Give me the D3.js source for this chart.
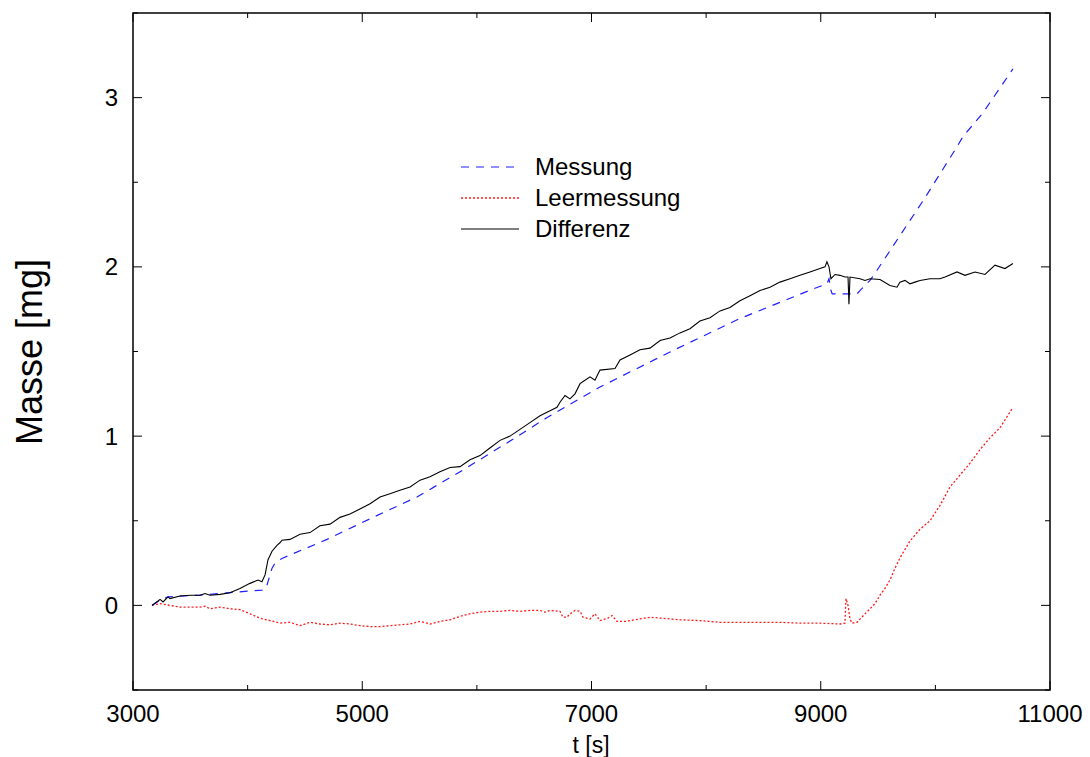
<!DOCTYPE html>
<html>
<head>
<meta charset="utf-8">
<script src="https://cdn.jsdelivr.net/npm/d3@7"></script>
<style>
  html, body { margin: 0; padding: 0; background: #fff; }
  svg { display: block; font-family: "Liberation Sans", Arial, Helvetica, sans-serif; }
</style>
</head>
<body>
<svg id="chart" width="1090" height="757"></svg>
<script>
// ---- data ----
const xTicksMajor = [3000, 5000, 7000, 9000, 11000];
const xTicksMinor = [4000, 6000, 8000, 10000];
const yTicksMajor = [0, 1, 2, 3];
const yTicksMinor = [-0.5, 0.5, 1.5, 2.5, 3.5];
const xDomain = [3000, 11000];
const yDomain = [-0.5, 3.5];

const seriesNames = ["Messung", "Leermessung", "Differenz"];

const messungT = [3166, 3236, 3305, 3410, 3585, 3846, 4021, 4125, 4160, 4178, 4213, 4239, 4282, 4309,
  4693, 5094, 5477, 5879, 6263, 6613, 7074, 7711, 8295, 8935, 9054, 9072, 9089, 9100, 9200, 9316,
  9342, 9430, 9491, 9892, 10189, 10241, 10415, 10677];
const messungV = [0, 0.03, 0.05, 0.055, 0.06, 0.075, 0.085, 0.09, 0.10, 0.14, 0.22, 0.25, 0.27, 0.28,
  0.39, 0.52, 0.64, 0.80, 0.96, 1.11, 1.29, 1.506, 1.695, 1.87, 1.90, 1.93, 1.86, 1.84, 1.84, 1.84,
  1.86, 1.92, 1.98, 2.39, 2.71, 2.77, 2.91, 3.17];

const leerT = [3166, 3236, 3323, 3410, 3585, 3628, 3672, 3759, 3846, 3933, 4021, 4108, 4195, 4282,
  4370, 4457, 4544, 4631, 4719, 4806, 4893, 4980, 5068, 5155, 5242, 5417, 5504, 5591, 5678, 5766,
  5809, 5853, 5940, 6027, 6114, 6202, 6289, 6376, 6463, 6551, 6594, 6638, 6725, 6751, 6786, 6812,
  6856, 6900, 6926, 6987, 7030, 7074, 7144, 7179, 7222, 7292, 7379, 7510, 7598, 7772, 7946, 8121,
  8295, 8470, 8644, 8819, 8993, 9168, 9211, 9220, 9238, 9255, 9273, 9316, 9386, 9430, 9473, 9517,
  9560, 9604, 9648, 9691, 9778, 9866, 9953, 10040, 10128, 10215, 10302, 10389, 10476, 10564, 10677];
const leerV = [0, 0.01, 0.0, -0.01, -0.01, -0.005, -0.02, -0.01, -0.02, -0.025, -0.05, -0.075, -0.09, -0.105,
  -0.10, -0.12, -0.10, -0.11, -0.115, -0.105, -0.11, -0.12, -0.125, -0.125, -0.12, -0.11, -0.095, -0.11, -0.095, -0.085,
  -0.075, -0.065, -0.05, -0.04, -0.035, -0.035, -0.03, -0.035, -0.03, -0.03, -0.04, -0.03, -0.035, -0.07, -0.07, -0.05,
  -0.03, -0.035, -0.07, -0.08, -0.05, -0.09, -0.075, -0.06, -0.095, -0.095, -0.085, -0.07, -0.075, -0.085, -0.09, -0.10,
  -0.10, -0.10, -0.10, -0.105, -0.105, -0.11, -0.105, 0.04, 0.0, -0.08, -0.105, -0.10, -0.05, -0.02, 0.01, 0.06,
  0.10, 0.15, 0.22, 0.28, 0.38, 0.45, 0.50, 0.59, 0.70, 0.77, 0.84, 0.92, 0.99, 1.05, 1.17];

const diffT = [3166, 3236, 3262, 3305, 3323, 3410, 3500, 3585, 3628, 3672, 3759, 3846, 3933, 4021,
  4091, 4125, 4152, 4178, 4213, 4256, 4282, 4300, 4370, 4457, 4544, 4631, 4719, 4806, 4893, 4980,
  5068, 5155, 5242, 5329, 5417, 5504, 5591, 5678, 5766, 5853, 5940, 6027, 6114, 6202, 6289, 6376,
  6463, 6551, 6638, 6699, 6725, 6769, 6812, 6856, 6900, 6943, 6987, 7030, 7074, 7205, 7249, 7336,
  7423, 7510, 7598, 7685, 7772, 7859, 7946, 8034, 8121, 8208, 8295, 8383, 8470, 8557, 8644, 8732,
  8819, 8906, 8993, 9037, 9054, 9072, 9089, 9124, 9168, 9211, 9238, 9246, 9255, 9342, 9386, 9430,
  9517, 9604, 9665, 9691, 9735, 9778, 9822, 9866, 9953, 10040, 10084, 10189, 10258, 10346, 10433,
  10520, 10607, 10677];
const diffV = [0, 0.035, 0.02, 0.05, 0.04, 0.055, 0.06, 0.06, 0.07, 0.06, 0.065, 0.075, 0.10, 0.13,
  0.15, 0.14, 0.18, 0.27, 0.32, 0.355, 0.37, 0.385, 0.39, 0.42, 0.43, 0.47, 0.48, 0.52, 0.54, 0.57,
  0.60, 0.64, 0.66, 0.68, 0.70, 0.74, 0.76, 0.79, 0.815, 0.82, 0.86, 0.885, 0.93, 0.975, 1.00, 1.04,
  1.08, 1.12, 1.15, 1.17, 1.20, 1.24, 1.22, 1.25, 1.31, 1.33, 1.35, 1.33, 1.39, 1.40, 1.45, 1.48,
  1.51, 1.52, 1.565, 1.58, 1.61, 1.635, 1.68, 1.70, 1.74, 1.76, 1.80, 1.83, 1.86, 1.88, 1.91, 1.93,
  1.95, 1.97, 1.99, 2.00, 2.03, 2.00, 1.93, 1.955, 1.95, 1.94, 1.94, 1.78, 1.94, 1.93, 1.92, 1.93,
  1.925, 1.89, 1.88, 1.91, 1.92, 1.90, 1.91, 1.92, 1.93, 1.93, 1.94, 1.97, 1.95, 1.97, 1.955,
  2.01, 1.99, 2.02];

// ---- layout ----
const svg = d3.select("#chart");
const margin = {left: 133, top: 13, right: 1050, bottom: 690};
const x = d3.scaleLinear().domain(xDomain).range([margin.left, margin.right]);
const y = d3.scaleLinear().domain(yDomain).range([margin.bottom, margin.top]);

svg.append("defs").append("clipPath").attr("id", "clip")
  .append("rect").attr("x", margin.left).attr("y", margin.top)
  .attr("width", margin.right - margin.left).attr("height", margin.bottom - margin.top);

// ticks (inside, on all four sides)
const g = svg.append("g");
const majorLen = 9, minorLen = 5;
function xTicks(vals, len) {
  vals.forEach(v => {
    g.append("line").attr("x1", x(v)).attr("x2", x(v)).attr("y1", margin.bottom).attr("y2", margin.bottom - len)
      .attr("stroke", "#000").attr("stroke-width", 1);
    g.append("line").attr("x1", x(v)).attr("x2", x(v)).attr("y1", margin.top).attr("y2", margin.top + len)
      .attr("stroke", "#000").attr("stroke-width", 1);
  });
}
function yTicks(vals, len) {
  vals.forEach(v => {
    g.append("line").attr("y1", y(v)).attr("y2", y(v)).attr("x1", margin.left).attr("x2", margin.left + len)
      .attr("stroke", "#000").attr("stroke-width", 1);
    g.append("line").attr("y1", y(v)).attr("y2", y(v)).attr("x1", margin.right).attr("x2", margin.right - len)
      .attr("stroke", "#000").attr("stroke-width", 1);
  });
}
xTicks(xTicksMajor, majorLen);
xTicks(xTicksMinor, minorLen);
yTicks(yTicksMajor, majorLen);
yTicks(yTicksMinor, minorLen);

// tick labels
g.selectAll(".xl").data(xTicksMajor).enter().append("text")
  .attr("x", d => x(d)).attr("y", 722).attr("text-anchor", "middle")
  .attr("font-size", 24).attr("fill", "#000").text(d => d);
g.selectAll(".yl").data(yTicksMajor).enter().append("text")
  .attr("x", 118).attr("y", d => y(d)).attr("dy", "0.35em").attr("text-anchor", "end")
  .attr("font-size", 24).attr("fill", "#000").text(d => d);

// axis titles
svg.append("text").attr("x", 591).attr("y", 753).attr("text-anchor", "middle")
  .attr("font-size", 23).attr("fill", "#000").text("t [s]");
svg.append("text").attr("transform", "translate(42,352) rotate(-90)").attr("text-anchor", "middle")
  .attr("font-size", 36).attr("fill", "#000").text("Masse [mg]");

// series
const line = d3.line().x(d => x(d[0])).y(d => y(d[1]));
const zip = (a, b) => a.map((t, i) => [t, b[i]]);
const styles = {
  "Messung":     {data: zip(messungT, messungV), color: "#1f1fff", dash: "8,7", width: 1.2},
  "Leermessung": {data: zip(leerT, leerV),       color: "#ff1a1a", dash: "2,2", width: 1.3},
  "Differenz":   {data: zip(diffT, diffV),       color: "#000000", dash: null,  width: 1.1}
};
const plot = svg.append("g").attr("clip-path", "url(#clip)");
["Leermessung", "Messung", "Differenz"].forEach(name => {
  const s = styles[name];
  plot.append("path").datum(s.data).attr("d", line)
    .attr("fill", "none").attr("stroke", s.color).attr("stroke-width", s.width)
    .attr("stroke-dasharray", s.dash);
});

// frame
svg.append("rect").attr("x", margin.left).attr("y", margin.top)
  .attr("width", margin.right - margin.left).attr("height", margin.bottom - margin.top)
  .attr("fill", "none").attr("stroke", "#000").attr("stroke-width", 1.5);

// legend
const legendY = [167, 198, 229];
const lg = svg.append("g");
seriesNames.forEach((name, i) => {
  const s = styles[name];
  lg.append("line").attr("x1", 461).attr("x2", 519).attr("y1", legendY[i]).attr("y2", legendY[i])
    .attr("stroke", s.color).attr("stroke-width", s.width).attr("stroke-dasharray", s.dash);
  lg.append("text").attr("x", 535).attr("y", legendY[i]).attr("dy", "0.35em")
    .attr("font-size", 24).attr("fill", "#000").text(name);
});
</script>
</body>
</html>
